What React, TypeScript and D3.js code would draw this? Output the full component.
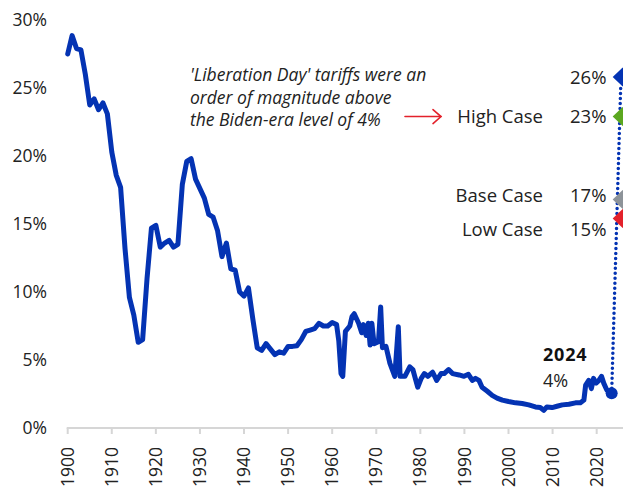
import React from 'react';
import * as d3 from 'd3';

// US average effective tariff rate, %
const years = [
  1900, 1901, 1902, 1903, 1904, 1905, 1906, 1907, 1908, 1909,
  1910, 1911, 1912, 1913, 1914, 1915, 1916, 1917, 1918, 1919,
  1920, 1921, 1922, 1923, 1924, 1925, 1926, 1927, 1928, 1929,
  1930, 1931, 1932, 1933, 1934, 1935, 1936, 1937, 1938, 1939,
  1940, 1941, 1942, 1943, 1944, 1945, 1946, 1947, 1948, 1949,
  1950, 1951, 1952, 1953, 1954, 1955, 1956, 1957, 1958, 1959,
  1960, 1961, 1961.5, 1962, 1962.4, 1963, 1964, 1964.5, 1965, 1966,
  1966.7, 1967.1, 1967.7, 1968.2, 1968.6, 1969, 1969.5, 1970.5, 1971, 1971.4,
  1972.2, 1973.1, 1974.2, 1975, 1975.4, 1976.5, 1977.6, 1978.3, 1979.4, 1980.2,
  1980.9, 1981.7, 1982.8, 1983.7, 1984.7, 1985.4, 1986.4, 1987.3, 1988.8, 1989.9,
  1990.9, 1991.8, 1992.5, 1993.3, 1994, 1995.2, 1996.3, 1997.4, 1998.6, 2000,
  2001.6, 2003.1, 2004.6, 2006.1, 2007.2, 2008, 2008.7, 2009.9, 2011, 2012.2,
  2013.7, 2015.2, 2016.3, 2017.1, 2017.5, 2018.2, 2018.8, 2019.3, 2019.9, 2020.5,
  2021.1, 2021.6, 2022.3,
];
const tariffRates = [
  27.5, 28.85, 27.9, 27.8, 26.0, 23.75, 24.2, 23.4, 23.9, 23.1,
  20.3, 18.6, 17.7, 13.2, 9.6, 8.3, 6.3, 6.5, 11.0, 14.7,
  14.9, 13.3, 13.6, 13.8, 13.3, 13.5, 17.9, 19.6, 19.8, 18.3,
  17.6, 16.9, 15.7, 15.5, 14.5, 12.6, 13.6, 11.7, 11.6, 10.0,
  9.7, 10.3, 8.0, 5.9, 5.7, 6.2, 5.8, 5.4, 5.6, 5.5,
  6.0, 6.0, 6.05, 6.5, 7.1, 7.2, 7.3, 7.7, 7.5, 7.5,
  7.75, 7.6, 6.4, 4.0, 3.8, 7.1, 7.5, 8.2, 8.4, 7.7,
  7.0, 7.6, 6.8, 7.7, 6.1, 7.7, 6.2, 6.35, 8.9, 5.9,
  6.0, 4.75, 3.8, 7.45, 3.8, 3.8, 4.5, 4.3, 3.0, 3.65,
  4.0, 3.8, 4.1, 3.5, 4.0, 4.0, 4.3, 4.0, 3.9, 3.8,
  3.95, 3.5, 3.65, 3.5, 3.0, 2.7, 2.4, 2.2, 2.05, 1.95,
  1.85, 1.8, 1.7, 1.55, 1.5, 1.3, 1.55, 1.5, 1.6, 1.7,
  1.75, 1.85, 1.85, 2.05, 3.15, 3.5, 2.9, 3.65, 3.3, 3.5,
  3.8, 3.3, 2.8,
];

const latestYear = 2023.4;
const latestRate = 2.55;

const scenarioYear = 2025.9;
const scenarioNames = ['', 'High Case', 'Base Case', 'Low Case'];
const scenarioRates = [25.8, 22.9, 16.8, 15.4];
const scenarioLabelRates = [25.8, 22.9, 17.1, 14.6];
const scenarioLabels = ['26%', '23%', '17%', '15%'];
const scenarioColors = ['#0433b3', '#5ba71f', '#8d9399', '#e3212b'];

const yTicks = [0, 5, 10, 15, 20, 25, 30];
const xTicks = d3.range(1900, 2021, 10);

const annotationLines = [
  "'Liberation Day' tariffs were an",
  'order of magnitude above',
  'the Biden-era level of 4%',
];

const width = 623;
const height = 493;
const font = "'Open Sans', 'Noto Sans', sans-serif";
const lineColor = '#0433b3';
const axisColor = '#d6d6d6';
const textColor = '#222';

export default function App() {
  const x = d3.scaleLinear().domain([1900, 2024]).range([67.7, 614.3]);
  const y = d3.scaleLinear().domain([0, 30]).range([428, 20]);

  const line = d3
    .line<number>()
    .x((d, i) => x(years[i]))
    .y(d => y(d))
    .curve(d3.curveLinear);

  const diamondPath = 'M-10,0L0,-9.5L10,0L0,9.5Z';

  // draw order: red, gray, green, blue (top)
  const order = [3, 2, 1, 0];
  const arrowY = y(scenarioLabelRates[1]);

  return (
    <svg
      width={width}
      height={height}
      style={{ position: 'absolute', left: 0, top: 0, background: '#fff' }}
      fontFamily={font}
    >
      {/* x axis */}
      <line x1={x(1900) - 1} x2={width} y1={y(0)} y2={y(0)} stroke={axisColor} strokeWidth={2} />
      {xTicks.map(t => (
        <g key={t} transform={`translate(${x(t)},${y(0)})`}>
          <line y1={0} y2={6} stroke={axisColor} strokeWidth={2} />
          <text
            transform="rotate(-90)"
            x={-19}
            dy="0.35em"
            textAnchor="end"
            fontSize={17.5}
            fill={textColor}
          >
            {t}
          </text>
        </g>
      ))}

      {/* y labels */}
      {yTicks.map(t => (
        <text
          key={t}
          x={47}
          y={y(t)}
          dy="0.35em"
          textAnchor="end"
          fontSize={17.5}
          fill={textColor}
        >
          {t}%
        </text>
      ))}

      {/* history line */}
      <path
        d={line(tariffRates) || ''}
        fill="none"
        stroke={lineColor}
        strokeWidth={5}
        strokeLinejoin="round"
        strokeLinecap="round"
      />

      {/* dotted projection */}
      <line
        x1={x(latestYear)}
        y1={y(latestRate)}
        x2={x(scenarioYear) - 2}
        y2={y(scenarioRates[0]) + 10}
        stroke={lineColor}
        strokeWidth={3.5}
        strokeDasharray="0 5"
        strokeLinecap="round"
      />
      <circle cx={x(latestYear)} cy={y(latestRate)} r={6} fill={lineColor} />

      {order.map(i => (
        <path
          key={i}
          d={diamondPath}
          transform={`translate(${x(scenarioYear)},${y(scenarioRates[i])})`}
          fill={scenarioColors[i]}
        />
      ))}

      {/* scenario labels */}
      {scenarioLabels.map((lab, i) => (
        <g key={lab}>
          <text x={570} y={y(scenarioLabelRates[i])} dy="0.35em" fontSize={18.5} fill={textColor}>
            {lab}
          </text>
          {scenarioNames[i] && (
            <text
              x={543}
              y={y(scenarioLabelRates[i])}
              dy="0.35em"
              textAnchor="end"
              fontSize={18.5}
              fill={textColor}
            >
              {scenarioNames[i]}
            </text>
          )}
        </g>
      ))}

      {/* red arrow */}
      <g stroke="#e3212b" strokeWidth={1.6} fill="none" strokeLinecap="round">
        <line x1={405} x2={441} y1={arrowY} y2={arrowY} />
        <polyline points={`433,${arrowY - 7} 441,${arrowY} 433,${arrowY + 7}`} />
      </g>

      {/* annotation */}
      {annotationLines.map((l, i) => (
        <text
          key={i}
          x={190}
          y={75 + i * 22.5}
          dy="0.35em"
          fontSize={17.5}
          fontStyle="italic"
          fill={textColor}
        >
          {l}
        </text>
      ))}

      {/* 2024 label */}
      <text x={543} y={355} dy="0.35em" fontSize={18} fontWeight="bold" letterSpacing={0.8} fill="#111">
        2024
      </text>
      <text x={543} y={381} dy="0.35em" fontSize={18} fill={textColor}>
        4%
      </text>
    </svg>
  );
}
